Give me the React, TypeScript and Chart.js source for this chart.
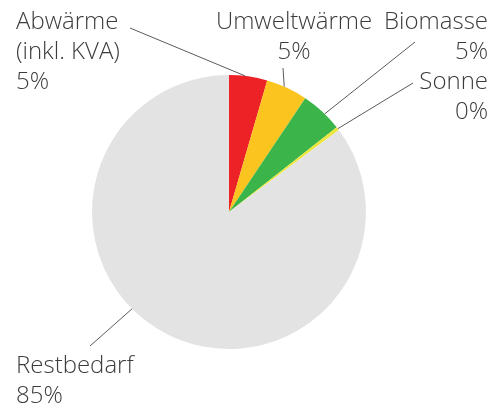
import React, { useEffect, useRef } from "react";
import { Chart, registerables } from "chart.js";

Chart.register(...registerables);

const categories = ["Abwärme (inkl. KVA)", "Umweltwärme", "Biomasse", "Sonne", "Restbedarf"];
const values = [4.5, 4.9, 5.0, 0.4, 85.2];
const valueLabels = ["5%", "5%", "5%", "0%", "85%"];
const labelLines = [["Abwärme", "(inkl. KVA)"], ["Umweltwärme"], ["Biomasse"], ["Sonne"], ["Restbedarf"]];
const colors = ["#EC2227", "#FCC41E", "#3BB54A", "#EDE63A", "#E3E3E3"];

// layout of the outside labels (text anchor, alignment, leader start, anchor fraction along arc)
const labelLayout = [
  { x: 16, y: 29, align: "left", lx: 130, ly: 28, frac: 0.42 },
  { x: 294, y: 29, align: "center", lx: 283, ly: 68, frac: 0.43 },
  { x: 488, y: 29, align: "right", lx: 415, ly: 42, frac: 0.58 },
  { x: 488, y: 89, align: "right", lx: 413, ly: 83, frac: 0.5 },
  { x: 16, y: 373, align: "left", lx: 90, ly: 346, frac: 0.56 },
];

const labelPlugin = {
  id: "outsideLabels",
  afterDraw(chart: any) {
    const ctx = chart.ctx;
    const meta = chart.getDatasetMeta(0);
    ctx.save();
    meta.data.forEach((arc: any, i: number) => {
      const p = arc.getProps(["x", "y", "startAngle", "endAngle", "outerRadius"], true);
      const L = labelLayout[i];
      const ang = p.startAngle + (p.endAngle - p.startAngle) * L.frac;
      const ax = p.x + Math.cos(ang) * p.outerRadius;
      const ay = p.y + Math.sin(ang) * p.outerRadius;
      ctx.strokeStyle = "#5a5a5a";
      ctx.lineWidth = 1;
      ctx.beginPath();
      ctx.moveTo(L.lx, L.ly);
      ctx.lineTo(ax, ay);
      ctx.stroke();
      ctx.fillStyle = "#3c3c3c";
      ctx.font = "300 24px 'Open Sans', sans-serif";
      ctx.textAlign = L.align;
      ctx.textBaseline = "alphabetic";
      const lines = [...labelLines[i], valueLabels[i]];
      lines.forEach((t, j) => ctx.fillText(t, L.x, L.y + j * 30));
    });
    ctx.restore();
  },
};

export default function App() {
  const ref = useRef<HTMLCanvasElement>(null);
  useEffect(() => {
    document.body.style.margin = "0";
    const chart = new Chart(ref.current!, {
      type: "pie",
      data: {
        labels: categories,
        datasets: [{ data: values, backgroundColor: colors, borderWidth: 0 }],
      },
      options: {
        animation: false,
        responsive: false,
        layout: { padding: { left: 92, right: 130, top: 75, bottom: 62 } },
        plugins: { legend: { display: false }, tooltip: { enabled: false } },
      },
      plugins: [labelPlugin],
    });
    return () => chart.destroy();
  }, []);
  return (
    <div style={{ position: "absolute", left: 0, top: 0, width: 496, height: 411 }}>
      <canvas ref={ref} width={496} height={411} />
    </div>
  );
}
